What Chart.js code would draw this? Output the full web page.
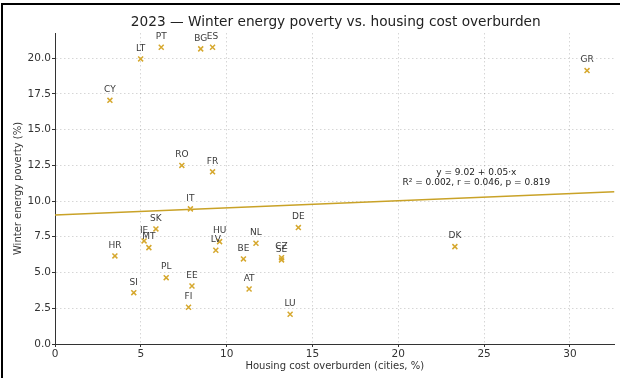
<!DOCTYPE html>
<html>
<head>
<meta charset="utf-8">
<script src="https://cdn.jsdelivr.net/npm/chart.js@4.4.1/dist/chart.umd.min.js"></script>
<style>
  html, body { margin: 0; padding: 0; background: #fff; overflow: hidden; }
  #wrap { position: relative; width: 620px; height: 378px; overflow: hidden; }
  canvas { display: block; }
</style>
</head>
<body>
<div id="wrap"><canvas id="c" width="620" height="378"></canvas></div>
<script>
const countries = ["LT","PT","BG","ES","CY","GR","RO","FR","IT","SK","DE","IE","MT","HR","HU","LV","NL","BE","CZ","SE","PL","EE","SI","AT","FI","LU","DK"];
const housingCost = [4.99,6.19,8.49,9.18,3.20,31.0,7.39,9.18,7.89,5.88,14.18,5.19,5.47,3.49,9.59,9.37,11.71,10.98,13.2,13.2,6.48,7.98,4.59,11.31,7.78,13.7,23.3];
const energyPoverty = [19.94,20.75,20.64,20.75,17.04,19.12,12.49,12.04,9.45,8.05,8.14,7.21,6.74,6.16,7.16,6.56,7.05,5.95,6.04,5.88,4.64,4.06,3.59,3.85,2.57,2.08,6.81];
const fitIntercept = 9.02;
const fitSlope = 0.05;
const fitText = ["y = 9.02 + 0.05\u00b7x", "R\u00b2 = 0.002, r = 0.046, p = 0.819"];
const titleText = "2023 \u2014 Winter energy poverty vs. housing cost overburden";
const xTitle = "Housing cost overburden (cities, %)";
const yTitle = "Winter energy poverty (%)";
const xMin = 0, xMax = 32.6, yMin = 0, yMax = 21.75;

const FONT = "'DejaVu Sans', sans-serif";
const points = housingCost.map((x, i) => ({x: x, y: energyPoverty[i]}));
const fitLine = [xMin, xMax].map(x => ({x: x, y: fitIntercept + fitSlope * x}));

const overlay = {
  id: 'overlay',
  afterDraw(chart) {
    const ctx = chart.ctx;
    const xs = chart.scales.x, ys = chart.scales.y;
    ctx.save();
    ctx.font = "9px " + FONT;
    ctx.fillStyle = "#3a3a3a";
    ctx.textAlign = "center";
    ctx.textBaseline = "middle";
    countries.forEach((c, i) => {
      const px = xs.getPixelForValue(housingCost[i]);
      const py = ys.getPixelForValue(energyPoverty[i]);
      ctx.fillText(c, px, py - 10.5);
    });
    ctx.fillStyle = "#222";
    const ax = xs.getPixelForValue(24.55);
    const ay = ys.getPixelForValue(11.95);
    ctx.fillText(fitText[0], ax, ay);
    ctx.fillText(fitText[1], ax, ay + 10);
    ctx.font = "13.7px " + FONT;
    ctx.fillStyle = "#222";
    ctx.fillText(titleText, (chart.chartArea.left + chart.chartArea.right) / 2 + 1, 22);
    ctx.fillStyle = "#000";
    ctx.fillRect(1, 3, 2, 380);
    ctx.fillRect(1, 3, 619, 2);
    ctx.restore();
  }
};

new Chart(document.getElementById('c'), {
  type: 'scatter',
  data: {
    datasets: [
      {
        type: 'line',
        data: fitLine,
        borderColor: '#C9A227',
        borderWidth: 1.6,
        pointRadius: 0,
        fill: false,
        order: 2
      },
      {
        data: points,
        pointStyle: 'crossRot',
        pointRadius: 3.5,
        pointBorderWidth: 1.5,
        borderColor: '#D6A82E',
        backgroundColor: '#D6A82E',
        order: 1
      }
    ]
  },
  options: {
    responsive: false,
    animation: false,
    layout: { padding: { left: 0, top: 33, right: 2, bottom: 0 } },
    plugins: { legend: { display: false }, tooltip: { enabled: false }, title: { display: false } },
    scales: {
      x: {
        type: 'linear',
        min: xMin, max: xMax,
        afterFit(s) { s.height = 34; },
        ticks: { stepSize: 5, includeBounds: false, padding: 1, color: '#333', font: { family: FONT, size: 10.5 },
                 callback: v => String(v) },
        afterBuildTicks(s) { s.ticks = s.ticks.filter(t => t.value % 5 === 0); },
        grid: { color: 'rgba(0,0,0,0.16)', tickColor: '#333', tickLength: 3 },
        border: { display: true, color: '#333', width: 1, dash: [1.5, 2.5] },
        title: { display: true, text: xTitle, color: '#333', font: { family: FONT, size: 10 }, padding: { top: 0, bottom: 6 } }
      },
      y: {
        type: 'linear',
        min: yMin, max: yMax,
        afterFit(s) { s.width = 55; },
        ticks: { stepSize: 2.5, includeBounds: false, padding: 1, color: '#333', font: { family: FONT, size: 10.5 },
                 callback: v => Number(v).toFixed(1) },
        afterBuildTicks(s) { s.ticks = s.ticks.filter(t => Math.abs(t.value / 2.5 - Math.round(t.value / 2.5)) < 1e-6); },
        grid: { color: 'rgba(0,0,0,0.16)', tickColor: '#333', tickLength: 3 },
        border: { display: true, color: '#333', width: 1, dash: [1.5, 2.5] },
        title: { display: true, text: yTitle, color: '#333', font: { family: FONT, size: 10 }, padding: { top: 12, bottom: 0 } }
      }
    }
  },
  plugins: [overlay]
});
</script>
</body>
</html>
